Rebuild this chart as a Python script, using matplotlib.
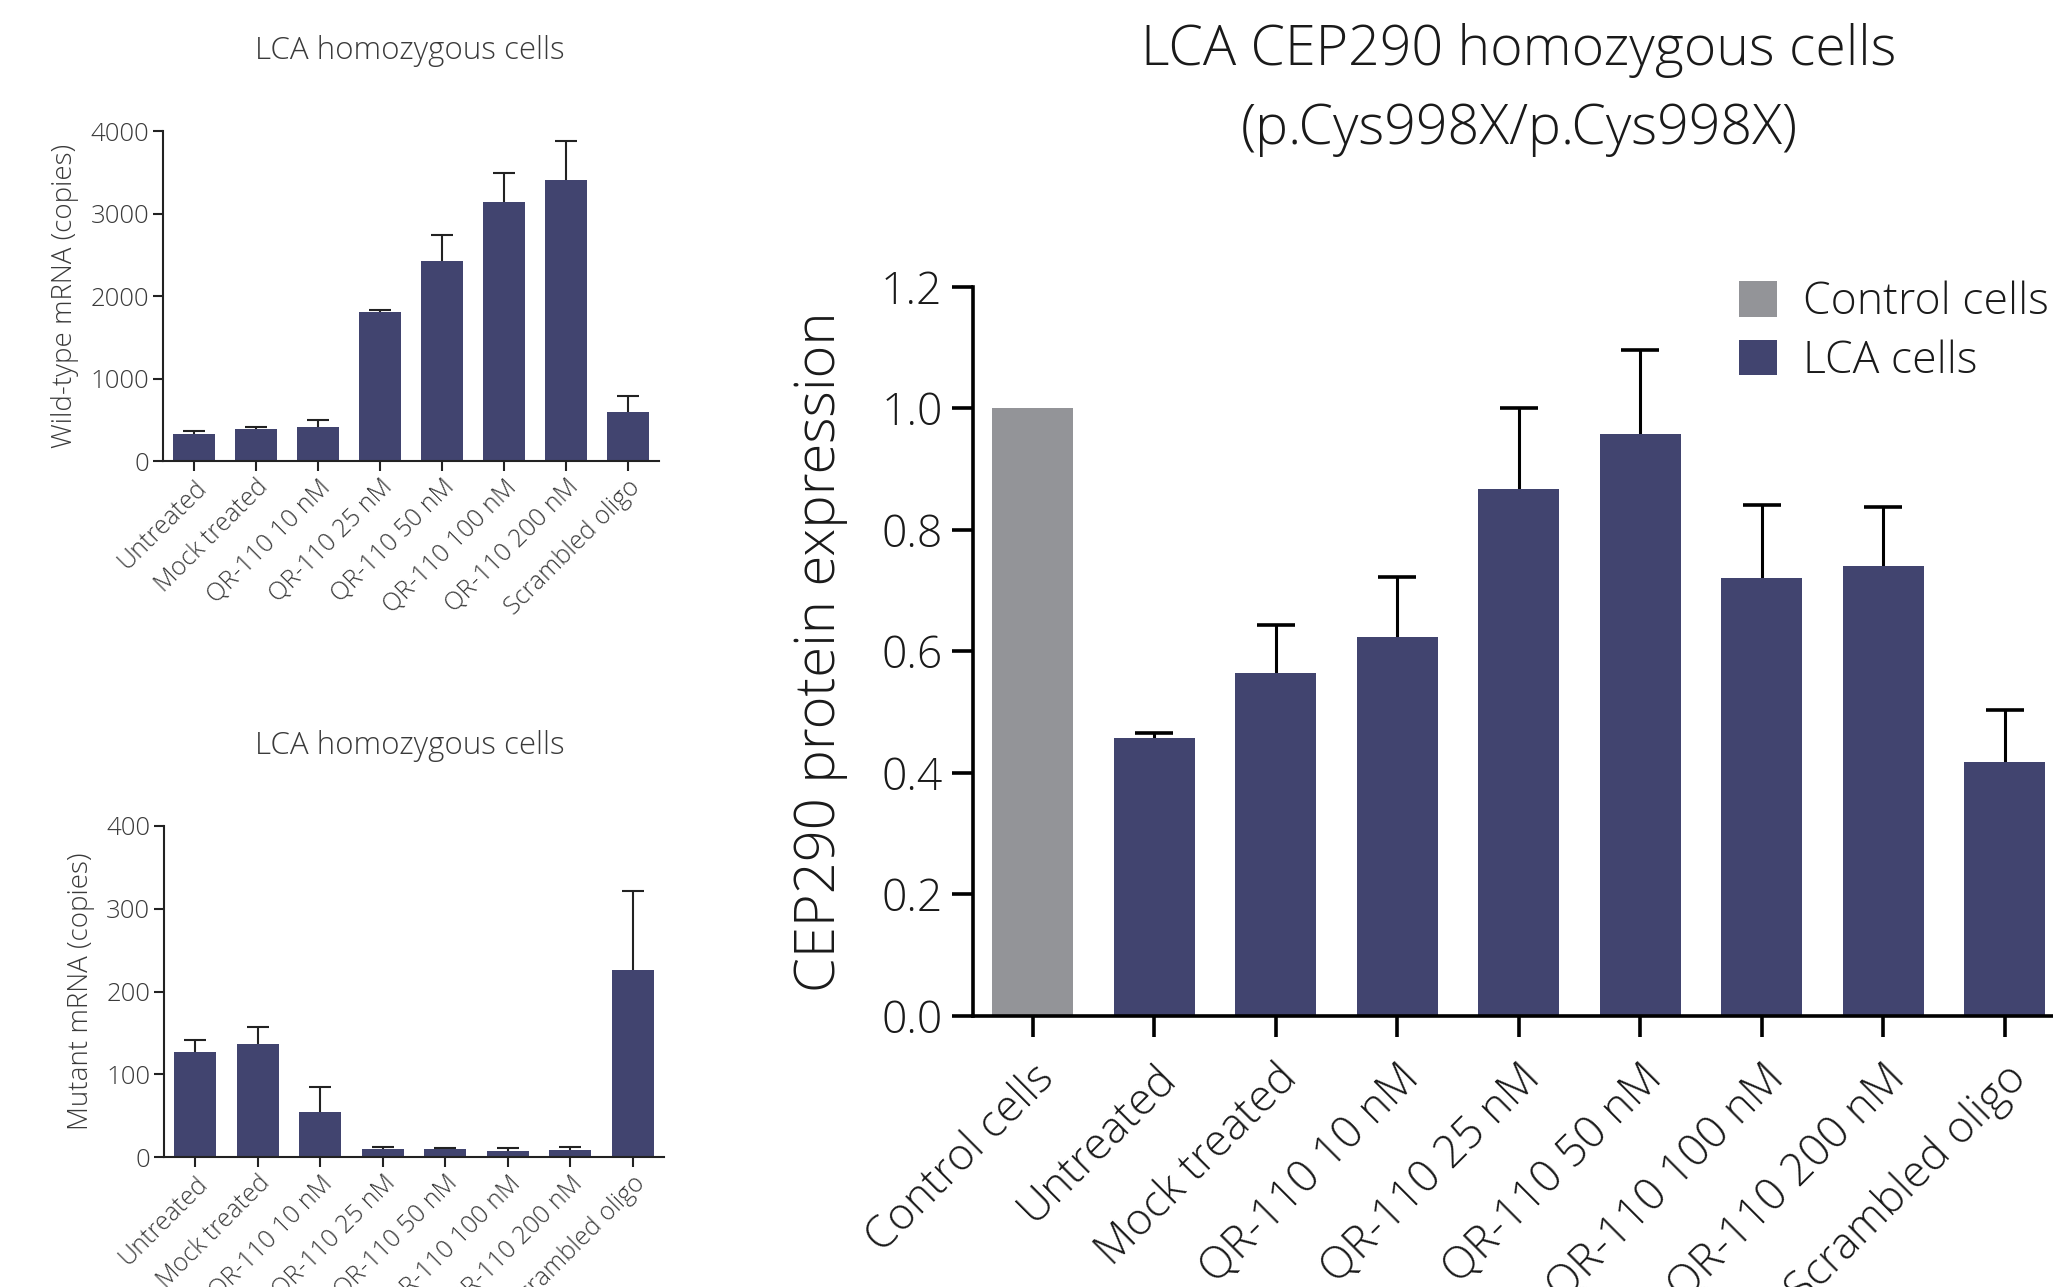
import matplotlib
matplotlib.use("Agg")
import matplotlib.pyplot as plt
from matplotlib.patches import Patch

plt.rcParams['font.family'] = ['Open Sans', 'DejaVu Sans']

# ---- data ----
left_categories = ["Untreated", "Mock treated", "QR-110 10 nM", "QR-110 25 nM",
                   "QR-110 50 nM", "QR-110 100 nM", "QR-110 200 nM", "Scrambled oligo"]
wt_mean = [330, 390, 410, 1812, 2430, 3142, 3410, 592]
wt_err = [28, 25, 92, 14, 314, 352, 468, 196]
mut_mean = [127, 136, 54, 10, 10, 7, 8.5, 226]
mut_err = [15, 21, 30, 2.6, 1.2, 3.8, 4, 96]

right_categories = ["Control cells", "Untreated", "Mock treated", "QR-110 10 nM", "QR-110 25 nM",
                    "QR-110 50 nM", "QR-110 100 nM", "QR-110 200 nM", "Scrambled oligo"]
prot_mean = [1.0, 0.458, 0.565, 0.624, 0.867, 0.958, 0.721, 0.740, 0.418]
prot_err = [0.0, 0.008, 0.078, 0.099, 0.134, 0.139, 0.120, 0.098, 0.086]
series_names = ["Control cells", "LCA cells"]

NAVY = "#41446f"
GRAY = "#939498"
LTXT = "#3a3a3a"
RTXT = "#1a1a1a"

W = "light"

fig = plt.figure(figsize=(20.53, 12.87), dpi=100)


def small_panel(rect, means, errs, ymax, ystep, ylabel, title, title_y):
    ax = fig.add_axes(rect)
    x = list(range(len(left_categories)))
    ax.bar(x, means, width=0.67, color=NAVY, edgecolor="none", zorder=2)
    eb = ax.errorbar(x, means, yerr=[[0] * len(errs), errs], fmt="none", ecolor="#222222",
                     elinewidth=1.5, capsize=8, capthick=1.5, zorder=1)
    eb[1][0].set_visible(False)
    ax.set_xlim(-0.5, len(x) - 0.5)
    ax.set_ylim(0, ymax)
    ax.set_yticks(list(range(0, ymax + 1, ystep)))
    ax.set_xticks(x)
    ax.set_xticklabels(left_categories, rotation=45, ha="right", rotation_mode="anchor",
                       fontsize=18, color=LTXT, fontweight=W)
    for lab in ax.get_yticklabels():
        lab.set_fontsize(18.5)
        lab.set_color(LTXT)
        lab.set_fontweight(W)
    for s in ["top", "right"]:
        ax.spines[s].set_visible(False)
    for s in ["left", "bottom"]:
        ax.spines[s].set_linewidth(1.5)
        ax.spines[s].set_color("#222222")
    ax.tick_params(axis="both", direction="out", length=7, width=1.5, color="#222222", pad=3)
    ax.set_ylabel(ylabel, fontsize=20, color=LTXT, fontweight=W, labelpad=8)
    fig.text(410 / 2053, title_y, title, ha="center", va="center",
             fontsize=22.5, color=LTXT, fontweight=W)
    return ax


small_panel([0.0794, 0.6418, 0.2416, 0.2564], wt_mean, wt_err, 4000, 1000,
            "Wild-type mRNA (copies)", "LCA homozygous cells", 1 - 51 / 1287)
small_panel([0.0799, 0.1010, 0.2435, 0.2572], mut_mean, mut_err, 400, 100,
            "Mutant mRNA (copies)", "LCA homozygous cells", 1 - 746 / 1287)

# ---- right panel ----
ax = fig.add_axes([0.474, 0.2106, 0.5327, 0.5664])
xr = list(range(len(right_categories)))
colors = [GRAY] + [NAVY] * (len(xr) - 1)
ax.bar(xr, prot_mean, width=0.667, color=colors, edgecolor="none", zorder=2)
eb = ax.errorbar(xr[1:], prot_mean[1:], yerr=[[0] * (len(xr) - 1), prot_err[1:]], fmt="none",
                 ecolor="black", elinewidth=2.2, capsize=14, capthick=2.6, zorder=1)
eb[1][0].set_visible(False)
ax.set_xlim(-0.49, len(xr) - 0.49)
ax.set_ylim(0, 1.2)
ax.set_yticks([0.0, 0.2, 0.4, 0.6, 0.8, 1.0, 1.2])
ax.set_yticklabels(["0.0", "0.2", "0.4", "0.6", "0.8", "1.0", "1.2"], fontsize=32,
                   color=RTXT, fontweight=W)
ax.set_xticks(xr)
ax.set_xticklabels(right_categories, rotation=45, ha="right", rotation_mode="anchor",
                   fontsize=32, color=RTXT, fontweight=W)
for s in ["top", "right"]:
    ax.spines[s].set_visible(False)
for s in ["left", "bottom"]:
    ax.spines[s].set_linewidth(2.6)
    ax.spines[s].set_color("black")
ax.tick_params(axis="both", direction="out", length=15, width=2.6, color="black", pad=7)
ax.tick_params(axis="x", pad=14)
ax.set_ylabel("CEP290 protein expression", fontsize=40.5, color=RTXT, fontweight=W, labelpad=24)

handles = [Patch(facecolor=GRAY, edgecolor="none"), Patch(facecolor=NAVY, edgecolor="none")]
leg = fig.legend(handles, series_names, loc="upper left", bbox_to_anchor=(1730 / 2053, 1 - 272 / 1287),
                 frameon=False, fontsize=32, handlelength=0.85, handleheight=0.85,
                 handletextpad=0.6, labelspacing=0.32, borderaxespad=0, borderpad=0.2)
for t in leg.get_texts():
    t.set_color(RTXT)
    t.set_fontweight(W)

fig.text(1519 / 2053, 1 - 90 / 1287, "LCA CEP290 homozygous cells\n(p.Cys998X/p.Cys998X)",
         ha="center", va="center", fontsize=40, color=RTXT, fontweight=W, linespacing=1.55)

fig.savefig("out.png", dpi=100)
